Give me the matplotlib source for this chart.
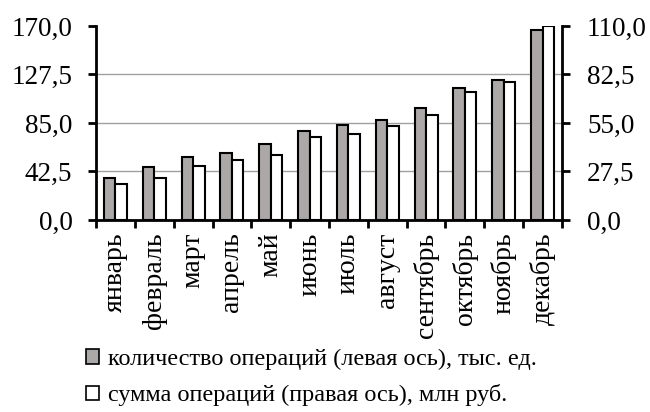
import matplotlib
matplotlib.use("Agg")
import matplotlib.pyplot as plt
import numpy as np
from matplotlib.patches import Patch

plt.rcParams['font.family'] = ['Liberation Serif', 'DejaVu Serif']

months = ["январь", "февраль", "март", "апрель", "май", "июнь", "июль",
          "август", "сентябрь", "октябрь", "ноябрь", "декабрь"]
count_ops = [36.8, 46.4, 55.2, 59.0, 66.3, 78.3, 83.0, 87.6, 98.1, 115.4, 122.7, 166.8]
sum_ops = [20.6, 24.0, 30.8, 33.8, 36.7, 47.2, 48.9, 53.3, 59.5, 72.4, 78.1, 110.0]
left_ticks = [0, 42.5, 85, 127.5, 170]
right_ticks = [0, 27.5, 55, 82.5, 110]
legend_labels = ["количество операций (левая ось), тыс. ед.",
                 "сумма операций (правая ось), млн руб."]

fig = plt.figure(figsize=(6.5, 4.12), dpi=100)
ax = fig.add_axes([0.1477, 0.466, 0.7169, 0.471])
ax2 = ax.twinx()

x = np.arange(len(months))
w = 0.295
gray = "#aca8a8"
ax.bar(x - w / 2, count_ops, width=w, color=gray, edgecolor="black", linewidth=1.5, zorder=3)
ax2.bar(x + w / 2, sum_ops, width=w, color="white", edgecolor="black", linewidth=1.5, zorder=3)

ax.set_xlim(-0.5, len(months) - 0.5)
ax.set_ylim(0, 170)
ax2.set_ylim(0, 110)
ax.set_yticks(left_ticks)
ax2.set_yticks(right_ticks)
fmt = lambda v: f"{v:.1f}".replace(".", ",")
ax.set_yticklabels([fmt(v) for v in left_ticks], fontsize=19.5)
ax2.set_yticklabels([fmt(v) for v in right_ticks], fontsize=19.5)

ax.yaxis.grid(True, color="#a0a0a0", linewidth=1.0, zorder=0)
ax.set_axisbelow(True)
ax.get_ygridlines()[-1].set_visible(False)

ax.set_xticks(x)
ax.set_xticklabels(months, rotation=90, fontsize=20, va="top")
ax.set_xticks(np.arange(-0.5, len(months)), minor=True)
ax.tick_params(axis="x", which="major", length=0, pad=9)
ax.tick_params(axis="x", which="minor", length=6, width=2, direction="out")
ax.tick_params(axis="y", length=6, width=2, direction="out", pad=11)
ax2.tick_params(axis="y", which="major", right=True, length=6, width=2,
                direction="out", pad=12)

for a in (ax, ax2):
    a.spines["top"].set_visible(False)
ax.spines["right"].set_visible(False)
ax2.spines["left"].set_visible(False)
ax2.spines["bottom"].set_visible(False)
ax.spines["left"].set_linewidth(2)
ax.spines["bottom"].set_linewidth(2)
ax2.spines["right"].set_linewidth(2)

handles = [Patch(facecolor=gray, edgecolor="black", linewidth=1.2),
           Patch(facecolor="white", edgecolor="black", linewidth=1.2)]
fig.legend(handles, legend_labels, loc="lower left", bbox_to_anchor=(0.11, -0.022),
           frameon=False, fontsize=17.5, handlelength=0.55, handleheight=0.55,
           handletextpad=0.35, labelspacing=0.6, borderaxespad=0.2)

fig.savefig("out.png", dpi=100)
